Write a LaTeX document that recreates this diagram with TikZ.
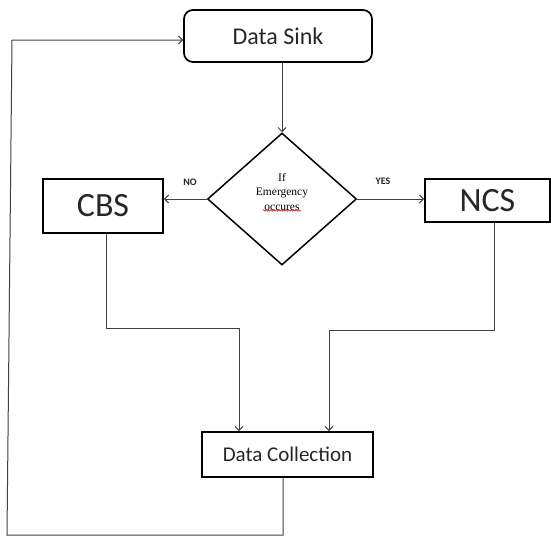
\documentclass[tikz,border=0pt]{standalone}
\usepackage{fontspec}
\setmainfont{Carlito}
\newfontfamily\serifface{Liberation Serif}
\usetikzlibrary{shapes.geometric,arrows.meta,calc,decorations.pathmorphing}
\begin{document}
\begin{tikzpicture}[x=1pt,y=-1pt,
  boxstyle/.style={draw=black,line width=1.7pt,inner sep=0pt,text=black!85},
  conn/.style={draw=black!75,line width=1pt},
  arr/.style={conn,-{Straight Barb[length=4pt,width=8pt]}},
  lab/.style={font=\fontsize{10}{12}\selectfont\bfseries,text=black!85}]
\useasboundingbox (0,0) rectangle (551,536);
\node[boxstyle,rounded corners=9pt,minimum width=188pt,minimum height=52pt,font=\fontsize{24}{28}\selectfont] (sink) at (278,36) {Data Sink};
\node[boxstyle,shape=diamond,minimum width=149pt,minimum height=132pt,line width=1.5pt] (dia) at (282,199) {};
\node[align=center,text=black,inner sep=0pt,font=\serifface\fontsize{11.5}{14.5}\selectfont] (diatext) at (282,192) {If\\Emergency\\occures};
\node[boxstyle,minimum width=120pt,minimum height=54pt,font=\fontsize{34}{38}\selectfont] (cbs) at (103,206) {CBS};
\node[boxstyle,minimum width=125pt,minimum height=43pt,font=\fontsize{34}{38}\selectfont] (ncs) at (487.5,200.5) {NCS};
\node[boxstyle,minimum width=171pt,minimum height=45pt,font=\fontsize{21}{25}\selectfont] (dc) at (287.5,454.5) {Data Collection};
\node[lab] (no) at (190,182) {NO};
\node[lab] (yes) at (383,181) {YES};
% spell-check underline
\coordinate (u1) at (263,210.5);
\coordinate (u2) at (301,210.5);
\draw[red!80!black,line width=0.5pt,decorate,decoration={snake,amplitude=0.8pt,segment length=2.5pt}] (u1) -- (u2);
% connectors
\draw[arr] (dia.north |- sink.south) -- (dia.north);
\draw[arr] (dia.west) -- (dia.west -| cbs.east);
\draw[arr] (dia.east) -- (dia.east -| ncs.west);
\coordinate (c1) at (106,328);
\coordinate (c2) at (239,328);
\draw[arr] (c1 |- cbs.south) -- (c1) -- (c2) -- (c2 |- dc.north);
\coordinate (n1) at (494,330);
\coordinate (n2) at (329,330);
\draw[arr] (n1 |- ncs.south) -- (n1) -- (n2) -- (n2 |- dc.north);
\coordinate (b1) at (283,535);
\coordinate (b2) at (7,535);
\coordinate (b3) at (12,40);
\draw[arr] (b1 |- dc.south) -- (b1) -- (b2) -- (b3) -- (b3 -| sink.west);
\end{tikzpicture}
\end{document}
